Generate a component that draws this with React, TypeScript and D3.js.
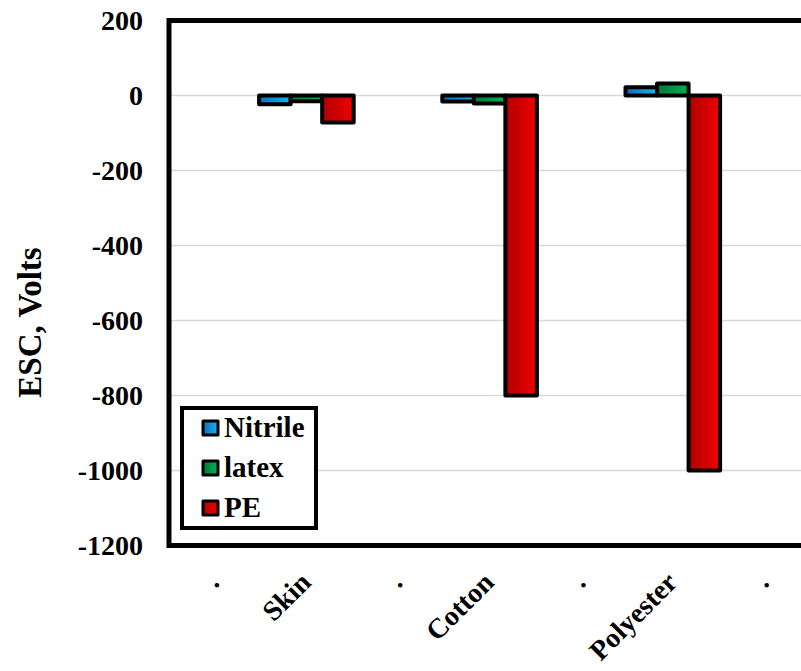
import React from "react";
import * as d3 from "d3";

const categories = [".", "Skin", ".", "Cotton", ".", "Polyester", "."];
const seriesNames = ["Nitrile", "latex", "PE"];
const nitrile: (number | null)[] = [null, -23, null, -16, null, 22, null];
const latex: (number | null)[] = [null, -15, null, -21, null, 32, null];
const pe: (number | null)[] = [null, -72, null, -800, null, -1000, null];
const yTicks = [200, 0, -200, -400, -600, -800, -1000, -1200];
const colorStops = [
  ["#0a6fb8", "#1eb0f0"],
  ["#007a36", "#00b050"],
  ["#b00000", "#f00000"],
];

const W = 801;
const H = 671;
const FONT = "Liberation Serif, Times New Roman, DejaVu Serif, serif";

export default function App() {
  const series = [nitrile, latex, pe];
  const left = 169;
  const step = 91.6;
  const x = d3
    .scaleBand<number>()
    .domain(categories.map((_, i) => i))
    .range([left, left + step * categories.length])
    .paddingInner(0)
    .paddingOuter(0);
  const xs = d3
    .scaleBand<number>()
    .domain(seriesNames.map((_, i) => i))
    .range([-1.5, x.bandwidth() + 1.5])
    .padding(0);
  const y = d3.scaleLinear().domain([-1200, 200]).range([545.5, 20.5]);

  const txt = { fontFamily: FONT, fontWeight: 700 as const };

  return (
    <svg
      width={W}
      height={H}
      style={{ position: "absolute", left: 0, top: 0, background: "#fff" }}
    >
      <defs>
        {colorStops.map((c, i) => (
          <linearGradient key={i} id={`g${i}`} x1="0" x2="1" y1="0" y2="0">
            <stop offset="0" stopColor={c[0]} />
            <stop offset="1" stopColor={c[1]} />
          </linearGradient>
        ))}
      </defs>
      <rect x={0} y={0} width={W} height={H} fill="#fff" />
      {yTicks.slice(1, -1).map((t) => (
        <line
          key={t}
          x1={left}
          x2={W + 20}
          y1={y(t)}
          y2={y(t)}
          stroke="#d9d9d9"
          strokeWidth={1.5}
        />
      ))}
      {series.map((s, si) =>
        s.map((v, ci) =>
          v === null ? null : (
            <rect
              key={`${si}-${ci}`}
              x={(x(ci) as number) + (xs(si) as number)}
              y={y(Math.max(0, v))}
              width={xs.bandwidth()}
              height={Math.abs(y(v) - y(0))}
              fill={`url(#g${si})`}
              stroke="#000"
              strokeWidth={4}
              strokeLinejoin="round"
            />
          )
        )
      )}
      <path
        d={`M${W + 20},${y(200)} H${left} V${y(-1200)} H${W + 20}`}
        fill="none"
        stroke="#000"
        strokeWidth={5}
      />
      {yTicks.map((t) => (
        <text
          key={t}
          x={143}
          y={y(t)}
          dy="0.35em"
          textAnchor="end"
          fontSize={28}
          style={txt}
        >
          {t}
        </text>
      ))}
      <text
        transform={`translate(41,322.5) rotate(-90)`}
        textAnchor="middle"
        fontSize={33}
        style={txt}
      >
        ESC, Volts
      </text>
      {categories.map((c, i) => (
        <text
          key={i}
          transform={`translate(${(x(i) as number) + x.bandwidth() / 2 + 6},584) rotate(-45)`}
          textAnchor="end"
          fontSize={28}
          style={txt}
        >
          {c}
        </text>
      ))}
      <rect
        x={182}
        y={408}
        width={134}
        height={120}
        fill="#fff"
        stroke="#000"
        strokeWidth={4}
      />
      {seriesNames.map((n, i) => (
        <g key={n}>
          <rect
            x={203}
            y={421 + i * 40}
            width={15}
            height={14}
            fill={`url(#g${i})`}
            stroke="#000"
            strokeWidth={3}
            strokeLinejoin="round"
          />
          <text x={224} y={437 + i * 40} fontSize={29} style={txt}>
            {n}
          </text>
        </g>
      ))}
    </svg>
  );
}
